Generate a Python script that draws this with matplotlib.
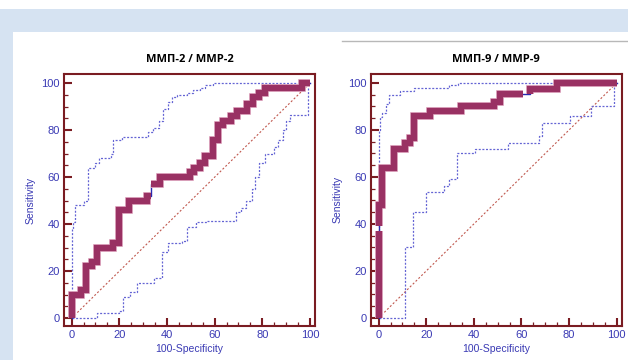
#!/usr/bin/env python3
"""Curvas ROC para MMP-2 e MMP-9 (com intervalos de confianca)."""

import numpy as np
import matplotlib
matplotlib.use("Agg")
import matplotlib.pyplot as plt
import matplotlib.patheffects as pe
from matplotlib.patches import Rectangle
from matplotlib.lines import Line2D
from matplotlib.ticker import MultipleLocator

TITLES = ["ММП-2 / ММР-2", "ММП-9 / ММР-9"]
X_LABEL = "100-Specificity"
Y_LABEL = "Sensitivity"

# Step curves: at each point the curve first rises at the previous x,
# then runs horizontally to this x.
ROC2_X = [0, 4, 6, 8.5, 10.5, 17.5, 20, 24, 31.5, 33.5, 37, 49.5, 51.5, 54,
          56, 59.5, 61.5, 63.5, 67, 69.5, 73.5, 76, 78.5, 81, 96.5, 100]
ROC2_Y = [0, 10, 12, 22, 24, 30, 32, 46, 50, 52, 57, 60, 62, 64,
          66, 69, 76, 82, 84, 86, 88, 91, 94, 96, 98, 100]
UP2_X = [0, 0.5, 1.5, 5, 7, 10, 11.5, 16.5, 17.5, 21, 32, 34, 36.5, 38.5,
         40.5, 42, 44, 48.5, 51, 54, 56, 59.5, 100]
UP2_Y = [0, 38, 41, 48, 50, 64, 66, 68, 70, 76, 77, 79, 81, 84,
         89, 92, 94, 95, 96, 97, 98, 99, 100]
LO2_X = [0, 10.5, 20, 21.5, 24.5, 27.5, 34.5, 38, 40.5, 46.5, 48.5, 52, 57, 69,
         71, 73, 75.5, 77, 78.5, 81, 85, 86.5, 88.5, 90, 91.5, 99.2, 100]
LO2_Y = [0, 0, 2, 3, 9, 11, 15, 17, 28, 32, 33, 39, 41, 41.5,
         45, 47, 50, 55, 60, 66, 70, 73, 76, 80, 84, 86.5, 100]
GAPS2 = [((33.5, 52), (33.5, 57))]

ROC9_X = [0, 1.5, 6.5, 11, 13, 15, 21.5, 34.5, 48.5, 51, 60.5, 63.5, 75, 100]
ROC9_Y = [0, 48, 64, 72, 74.5, 76.5, 86, 88, 90, 92, 95.5, 95.5, 97.5, 100]
UP9_X = [0, 0.5, 1.5, 3, 4.5, 9, 15, 29.5, 33.5, 100]
UP9_Y = [0, 80, 85.5, 87, 91, 95, 96.5, 97.7, 99, 100]
LO9_X = [0, 11, 14.5, 20, 27.5, 29.5, 33, 40.5, 54.5, 67.5, 68.5, 80.5, 89, 99, 100]
LO9_Y = [0, 0, 30, 45, 53.5, 56, 59, 70, 72, 74.5, 77.5, 83, 86, 90, 100]
GAPS9 = [((0, 37), (0, 39)), ((60.5, 95.5), (63.5, 95.5))]

FRAME = "#7a1c22"
TEXT_BLUE = "#3a3ab4"
ROC_COLOR = "#993163"
BAND_COLOR = "#6464d4"
DIAG_COLOR = "#c0584e"


def expand_steps(xs, ys):
    px, py = [xs[0]], [ys[0]]
    for i in range(1, len(xs)):
        px += [xs[i - 1], xs[i]]
        py += [ys[i], ys[i]]
    return px, py


def break_at_gaps(px, py, gaps):
    out_x, out_y = [px[0]], [py[0]]
    for i in range(1, len(px)):
        x0, y0, x1, y1 = px[i - 1], py[i - 1], px[i], py[i]
        for (ax, ay), (bx, by) in gaps:
            lo_y, hi_y = min(y0, y1), max(y0, y1)
            lo_x, hi_x = min(x0, x1), max(x0, x1)
            on_v = x0 == x1 == ax == bx and lo_y <= ay <= hi_y and lo_y <= by <= hi_y and y0 != y1
            on_h = y0 == y1 == ay == by and lo_x <= ax <= hi_x and lo_x <= bx <= hi_x and x0 != x1
            if on_v or on_h:
                out_x += [ax, np.nan, bx]
                out_y += [ay, np.nan, by]
        out_x.append(x1)
        out_y.append(y1)
    return out_x, out_y


def draw_panel(ax, title, roc, upper, lower, gaps):
    ax.set_xlim(-3.2, 102.1)
    ax.set_ylim(-3.2, 103.8)

    ax.plot([0, 100], [0, 100], color=DIAG_COLOR, linewidth=0.8,
            dashes=(1.8, 1.8), zorder=2)
    for bx, by in (upper, lower):
        px, py = expand_steps(bx, by)
        ax.plot(px, py, color=BAND_COLOR, linewidth=0.9, dashes=(1.6, 1.3), zorder=3)

    px, py = expand_steps(*roc)
    ax.plot(px, py, color="#2a2ab0", linewidth=1.0, zorder=4)
    tx, ty = break_at_gaps(px, py, gaps)
    ax.plot(tx, ty, color=ROC_COLOR, linewidth=4.6, solid_capstyle="butt",
            solid_joinstyle="miter", zorder=5,
            path_effects=[pe.Stroke(linewidth=5.7, foreground="#e7b9cc"), pe.Normal()])

    for side in ax.spines.values():
        side.set_color(FRAME)
        side.set_linewidth(1.5)

    ax.xaxis.set_major_locator(MultipleLocator(20))
    ax.yaxis.set_major_locator(MultipleLocator(20))
    ax.xaxis.set_minor_locator(MultipleLocator(5))
    ax.yaxis.set_minor_locator(MultipleLocator(5))
    ax.tick_params(which="major", direction="in", length=5.5, width=1.5,
                   color=FRAME, labelcolor=TEXT_BLUE, labelsize=8, pad=3)
    ax.tick_params(which="minor", direction="in", length=3, width=0.9, color=FRAME)
    for lbl in ax.get_xticklabels() + ax.get_yticklabels():
        lbl.set_family("Liberation Sans")

    ax.set_xlabel(X_LABEL, color=TEXT_BLUE, fontsize=7.5, family="Liberation Sans", labelpad=3)
    ax.set_ylabel(Y_LABEL, color=TEXT_BLUE, fontsize=7.5, family="Liberation Sans", labelpad=4)
    ax.set_title(title, fontsize=8, fontweight="bold", family="Open Sans", pad=9)


def main():
    fig = plt.figure(figsize=(6.28, 3.6), dpi=100)
    fig.patch.set_facecolor("white")

    fig.patches.append(Rectangle((0, 1 - 32 / 360), 1, 23 / 360, transform=fig.transFigure,
                                 facecolor="#d6e3f2", edgecolor="none", zorder=0))
    fig.patches.append(Rectangle((0, 0), 13 / 628, 1 - 32 / 360, transform=fig.transFigure,
                                 facecolor="#d6e3f2", edgecolor="none", zorder=0))
    fig.lines.append(Line2D([342 / 628, 1], [1 - 40.5 / 360] * 2, transform=fig.transFigure,
                            color="#b8b8b8", linewidth=1.0))

    ax_left = fig.add_axes([64 / 628, 1 - 325.7 / 360, 251 / 628, 251.5 / 360])
    ax_right = fig.add_axes([371 / 628, 1 - 325.5 / 360, 250.7 / 628, 251.5 / 360])

    draw_panel(ax_left, TITLES[0], (ROC2_X, ROC2_Y), (UP2_X, UP2_Y), (LO2_X, LO2_Y), GAPS2)
    draw_panel(ax_right, TITLES[1], (ROC9_X, ROC9_Y), (UP9_X, UP9_Y), (LO9_X, LO9_Y), GAPS9)

    fig.savefig("out.png", dpi=100)
    plt.close(fig)


if __name__ == "__main__":
    main()
